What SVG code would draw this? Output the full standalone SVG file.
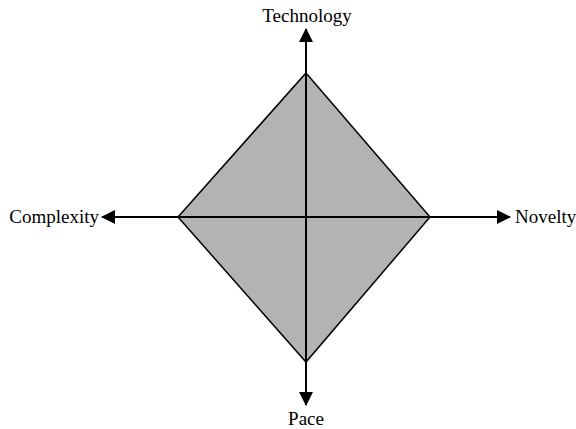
<svg xmlns="http://www.w3.org/2000/svg" width="576" height="429" viewBox="0 0 576 429">
<style>
.lbl{font-family:"Liberation Serif","Times New Roman",serif;font-size:19px;fill:#000}
.ax{stroke:#000;stroke-width:2;fill:none}
</style>
<defs>
<marker id="ah" viewBox="0 0 14 14" refX="13" refY="7" markerWidth="14" markerHeight="14" markerUnits="userSpaceOnUse" orient="auto">
<path d="M0,0 L14,7 L0,14 Z" fill="#000"/>
</marker>
</defs>
<rect width="576" height="429" fill="#fff"/>
<g id="diamond">
<polygon points="306,73 430,217 306,362 178,217" fill="#b3b3b3" stroke="#000" stroke-width="1.5"/>
</g>
<g id="connectors">
<line class="ax" x1="306" y1="217" x2="306" y2="29" marker-end="url(#ah)"/>
<line class="ax" x1="306" y1="217" x2="306" y2="405" marker-end="url(#ah)"/>
<line class="ax" x1="306" y1="217" x2="102" y2="217" marker-end="url(#ah)"/>
<line class="ax" x1="306" y1="217" x2="510" y2="217" marker-end="url(#ah)"/>
</g>
<g id="technology"><text class="lbl" x="307" y="22" text-anchor="middle">Technology</text></g>
<g id="pace"><text class="lbl" x="306" y="425" text-anchor="middle">Pace</text></g>
<g id="complexity"><text class="lbl" x="99" y="223" text-anchor="end">Complexity</text></g>
<g id="novelty"><text class="lbl" x="515" y="223">Novelty</text></g>
</svg>
